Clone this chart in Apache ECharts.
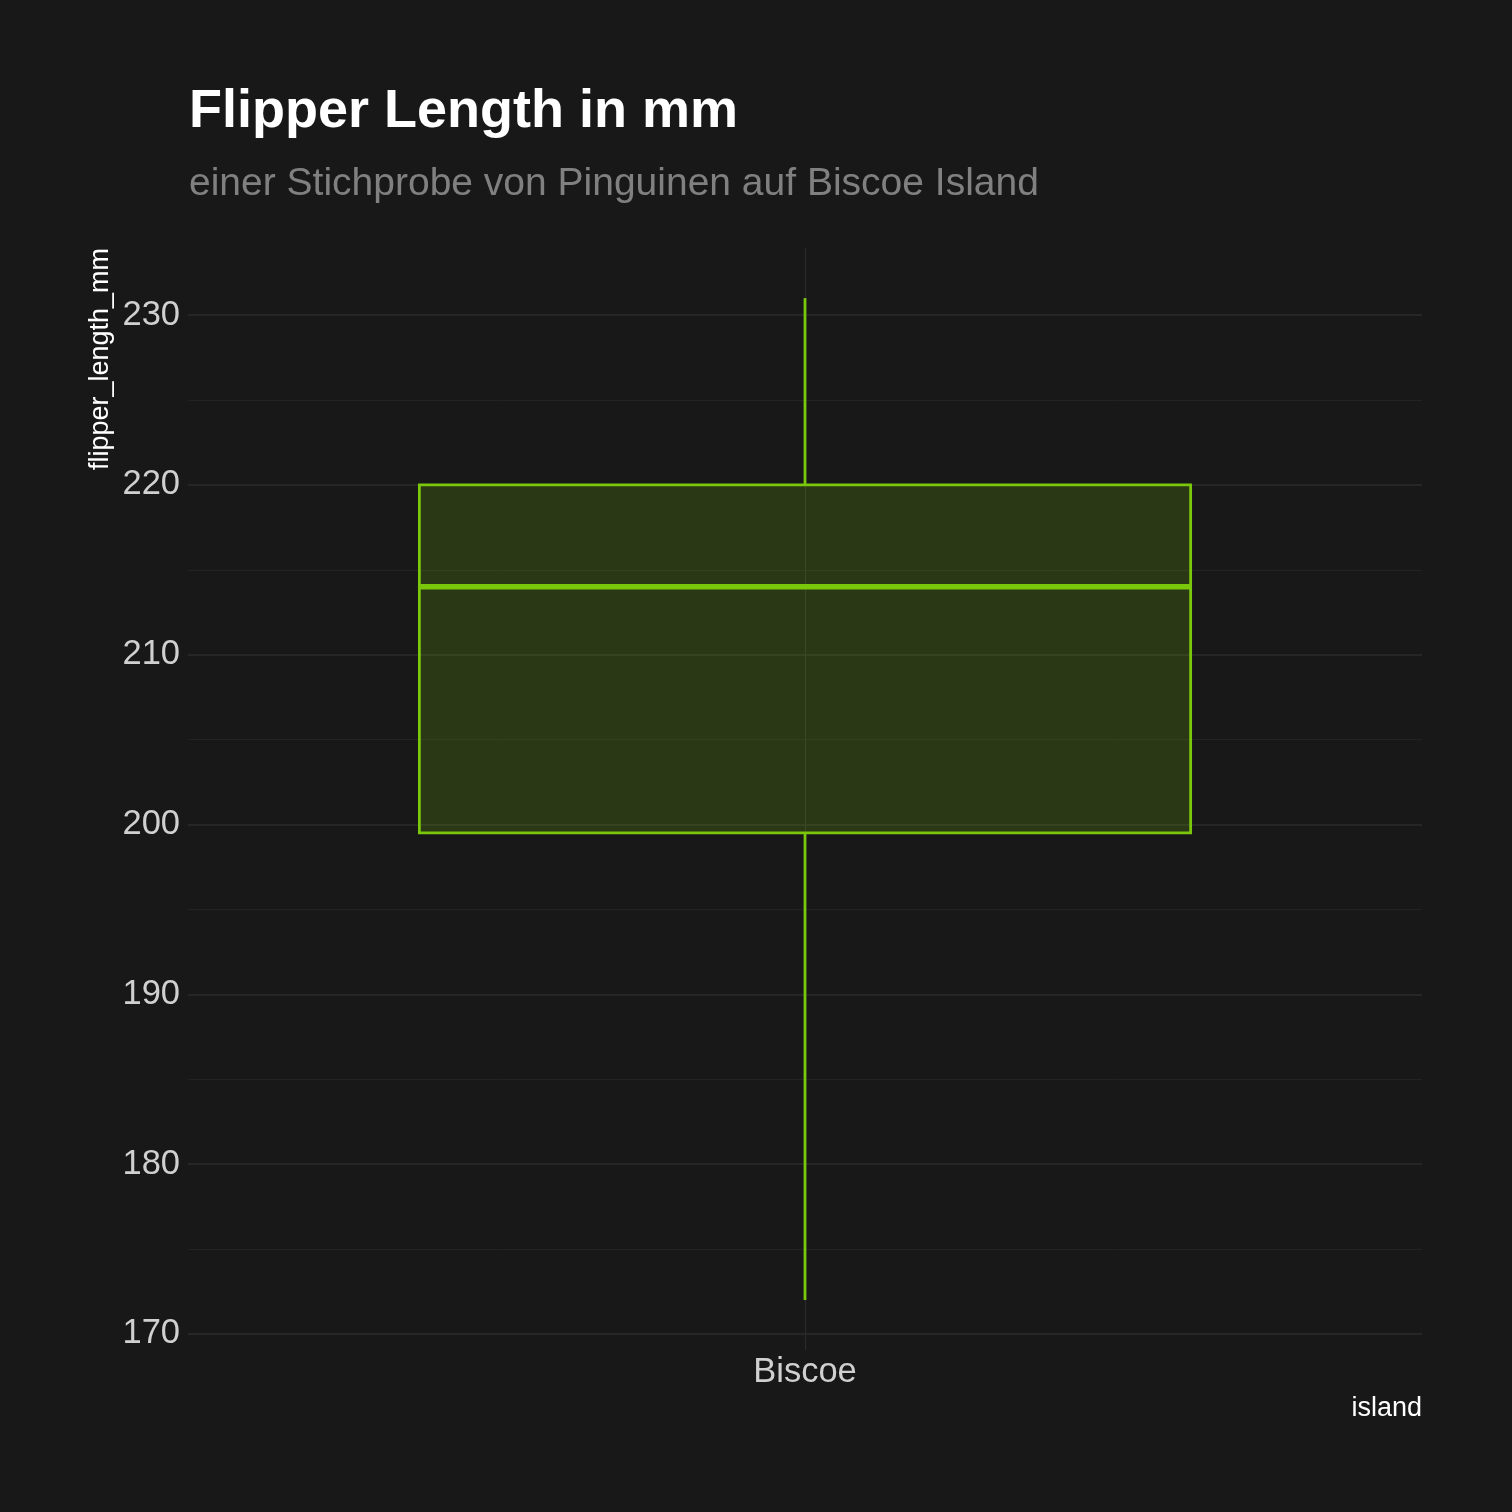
<!DOCTYPE html>
<html>
<head>
<meta charset="utf-8">
<script src="https://cdn.jsdelivr.net/npm/echarts@6/dist/echarts.min.js"></script>
<style>
html,body{margin:0;padding:0;background:#181818;}
#chart{width:1512px;height:1512px;}
</style>
</head>
<body>
<div id="chart"></div>
<script>
// ---- data ----
const categories = ['Biscoe'];
const whiskerLow = [172];
const q1 = [199.5];
const median = [214];
const q3 = [220];
const whiskerHigh = [231];
const majorTicks = [170, 180, 190, 200, 210, 220, 230];
const minorTicks = [175, 185, 195, 205, 215, 225];
const yMin = 169.05, yMax = 233.95;

const boxData = categories.map((c, i) => [i, whiskerLow[i], q1[i], median[i], q3[i], whiskerHigh[i]]);

const GREEN = '#7ac70c';
const FONT = '"Liberation Sans", Arial, sans-serif';

const chart = echarts.init(document.getElementById('chart'));
chart.setOption({
  backgroundColor: '#181818',
  animation: false,
  title: {
    text: 'Flipper Length in mm',
    subtext: 'einer Stichprobe von Pinguinen auf Biscoe Island',
    left: 184,
    top: 78,
    itemGap: 22,
    textStyle: { color: '#ffffff', fontFamily: FONT, fontWeight: 'bold', fontSize: 54, lineHeight: 58 },
    subtextStyle: { color: '#808080', fontFamily: FONT, fontSize: 39, lineHeight: 42 }
  },
  grid: { left: 188, right: 90, top: 248, bottom: 162, containLabel: false },
  xAxis: [{
    type: 'category',
    data: categories,
    boundaryGap: true,
    axisLine: { show: false },
    axisTick: { show: false },
    splitLine: { show: false },
    axisLabel: { color: '#d0d0d0', fontFamily: FONT, fontSize: 34.5, margin: 5 }
  }, {
    type: 'value',
    min: 0.4, max: 1.6, interval: 0.6,
    show: true,
    axisLine: { show: false },
    axisTick: { show: false },
    axisLabel: { show: false },
    splitLine: { show: true, showMinLine: false, showMaxLine: false, lineStyle: { color: '#2a2a2a', width: 1.2 } }
  }],
  yAxis: [{
    type: 'value',
    min: yMin, max: yMax,
    axisLine: { show: false },
    axisTick: { show: false, customValues: majorTicks },
    axisLabel: { customValues: majorTicks, color: '#d0d0d0', fontFamily: FONT, fontSize: 34.5, margin: 8, padding: [8, 0, 0, 0] },
    splitLine: { show: true, lineStyle: { color: '#2b2b2b', width: 1.5 } }
  }, {
    type: 'value',
    min: yMin, max: yMax,
    position: 'left',
    axisLine: { show: false },
    axisTick: { show: false, customValues: minorTicks },
    axisLabel: { show: false, customValues: minorTicks },
    splitLine: { show: true, lineStyle: { color: '#232323', width: 1 } }
  }],
  graphic: [{
    type: 'text',
    x: 101, y: 248,
    rotation: Math.PI / 2,
    style: { text: 'flipper_length_mm', fill: '#ffffff', font: '27px "Liberation Sans", Arial, sans-serif', align: 'right', verticalAlign: 'middle' }
  }, {
    type: 'text',
    x: 1422, y: 1409,
    style: { text: 'island', fill: '#ffffff', font: '27px "Liberation Sans", Arial, sans-serif', align: 'right', verticalAlign: 'middle' }
  }],
  series: [{
    type: 'custom',
    xAxisIndex: 0,
    yAxisIndex: 0,
    data: boxData,
    encode: { x: 0, y: [1, 2, 3, 4, 5] },
    renderItem: function (params, api) {
      const xi = api.value(0);
      const band = api.size([1, 0])[0];
      const half = band * 0.625 / 2;
      const pLow = api.coord([xi, api.value(1)]);
      const pQ1 = api.coord([xi, api.value(2)]);
      const pMed = api.coord([xi, api.value(3)]);
      const pQ3 = api.coord([xi, api.value(4)]);
      const pHigh = api.coord([xi, api.value(5)]);
      const cx = pQ1[0];
      return {
        type: 'group',
        children: [
          { type: 'line', shape: { x1: cx, y1: pHigh[1], x2: cx, y2: pQ3[1] }, style: { stroke: GREEN, lineWidth: 2.8 } },
          { type: 'line', shape: { x1: cx, y1: pQ1[1], x2: cx, y2: pLow[1] }, style: { stroke: GREEN, lineWidth: 2.8 } },
          { type: 'rect', shape: { x: cx - half, y: pQ3[1], width: half * 2, height: pQ1[1] - pQ3[1] },
            style: { fill: 'rgba(122,199,12,0.19)', stroke: GREEN, lineWidth: 2.8 } },
          { type: 'line', shape: { x1: cx - half, y1: pMed[1], x2: cx + half, y2: pMed[1] }, style: { stroke: GREEN, lineWidth: 5.5 } }
        ]
      };
    }
  }]
});
</script>
</body>
</html>
